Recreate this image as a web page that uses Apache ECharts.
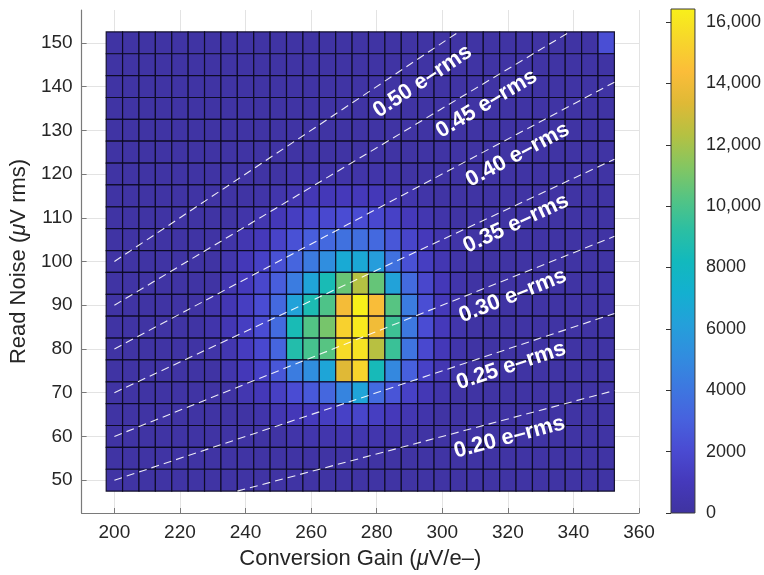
<!DOCTYPE html>
<html>
<head>
<meta charset="utf-8">
<script src="https://cdn.jsdelivr.net/npm/echarts@6/dist/echarts.min.js"></script>
<style>
  html, body { margin: 0; padding: 0; background: #ffffff; }
  #chart { width: 764px; height: 575px; }
</style>
</head>
<body>
<div id="chart"></div>
<script>
// Bin centres of the 2-D histogram
const gainBins = [200,205,210,215,220,225,230,235,240,245,250,255,260,265,270,275,280,285,290,295,300,305,310,315,320,325,330,335,340,345,350];
const noiseBins = [150,145,140,135,130,125,120,115,110,105,100,95,90,85,80,75,70,65,60,55,50];
const binWidth = 5;

// Pixel counts per bin, one row per read-noise bin (top row = 150 µV)
const countRows = [
  [150,150,150,150,150,150,150,150,150,150, 150,150,150,150,150,150,150,150,150,150, 150,150,150,150,150,150,150,150,150,150, 2200],
  [150,150,150,150,150,150,150,150,150,150, 150,150,150,150,150,150,150,150,150,150, 150,150,150,150,150,150,150,150,150,150, 150],
  [150,150,150,150,150,150,150,150,150,150, 150,150,150,150,150,150,150,150,150,150, 150,150,150,150,150,150,150,150,150,150, 150],
  [150,150,150,150,150,150,150,150,150,150, 150,150,150,150,150,150,150,150,150,150, 150,150,150,150,150,150,150,150,150,150, 150],
  [150,150,150,150,150,150,150,150,150,150, 150,150,150,150,150,150,150,150,150,150, 150,150,150,150,150,150,150,150,150,150, 150],
  [150,150,150,150,150,150,150,150,150,150, 150,150,150,150,150,150,150,150,150,150, 150,150,150,150,150,150,150,150,150,150, 150],
  [150,150,150,150,150,150,150,150,150,150, 150,350,350,350,350,350,350,350,150,150, 150,150,150,150,150,150,150,150,150,150, 150],
  [150,150,150,150,150,150,150,150,150,300, 450,600,800,900,1000,1000,900,700,450,300, 150,150,150,150,150,150,150,150,150,150, 150],
  [150,150,150,150,150,150,150,150,350,600, 900,1300,1700,1900,2100,2100,1900,1500,1000,600, 350,150,150,150,150,150,150,150,150,150, 150],
  [150,150,150,150,150,150,150,350,650,1000, 1600,2300,2900,3400,3800,3700,3400,2600,1700,1000, 550,300,150,150,150,150,150,150,150,150, 150],
  [150,150,150,150,150,150,150,500,900,1500, 2300,3200,4200,5200,6800,6700,6000,3800,2300,1300, 700,350,150,150,150,150,150,150,150,150, 150],
  [150,150,150,150,150,150,150,650,1100,1800, 2900,4300,6400,8500,10700,12300,10600,6300,3500,1800, 900,400,150,150,150,150,150,150,150,150, 150],
  [150,150,150,150,150,150,400,750,1300,2100, 3400,6300,8600,10100,14100,16400,14300,10300,4300,2200, 1000,450,150,150,150,150,150,150,150,150, 150],
  [150,150,150,150,150,150,400,750,1300,2100, 3500,8500,10200,11000,15200,16200,14000,9700,4100,2100, 1000,450,150,150,150,150,150,150,150,150, 150],
  [150,150,150,150,150,150,350,650,1200,1900, 3200,8900,9900,10300,15600,15900,12400,9600,3900,1900, 900,400,150,150,150,150,150,150,150,150, 150],
  [150,150,150,150,150,150,150,500,900,1500, 2600,4300,5200,6500,13400,15300,8400,4900,3000,1500, 700,300,150,150,150,150,150,150,150,150, 150],
  [150,150,150,150,150,150,150,150,600,900, 1400,2100,2700,3300,4700,6400,3500,2500,1500,800, 400,150,150,150,150,150,150,150,150,150, 150],
  [150,150,150,150,150,150,150,150,150,400, 700,900,1100,1300,1500,1700,1300,1000,700,400, 150,150,150,150,150,150,150,150,150,150, 150],
  [150,150,150,150,150,150,150,150,150,150, 150,350,450,500,550,550,500,400,300,150, 150,150,150,150,150,150,150,150,150,150, 150],
  [150,150,150,150,150,150,150,150,150,150, 150,150,150,150,150,150,150,150,150,150, 150,150,150,150,150,150,150,150,150,150, 150],
  [150,150,150,150,150,150,150,150,150,150, 150,150,150,150,150,150,150,150,150,150, 150,150,150,150,150,150,150,150,150,150, 150]
];
const countMax = 16425;

// Constant input-referred noise lines: read noise = level * conversion gain
const noiseLevels = [0.50, 0.45, 0.40, 0.35, 0.30, 0.25, 0.20];
const noiseLevelText = ['0.50 e\u2013rms', '0.45 e\u2013rms', '0.40 e\u2013rms', '0.35 e\u2013rms', '0.30 e\u2013rms', '0.25 e\u2013rms', '0.20 e\u2013rms'];
const lineStartGain = 200;

// Axis ticks
const gainTicks = [200,220,240,260,280,300,320,340,360];
const noiseTicks = [50,60,70,80,90,100,110,120,130,140,150];
const countTicks = [0,2000,4000,6000,8000,10000,12000,14000,16000];

// Where each line's text sits (gain of text centre, drop below the line in µV)
const labelGain = [294, 313.5, 323, 322.5, 321.5, 321, 320.5];
const labelDrop = [5.8, 5.0, 4.8, 4.2, 4.3, 4.1, 4.3];

const parula = ['#3f33a0','#4539bb','#4a4bd2','#4762de','#3d78e0','#318ddf','#24a0da','#13b0d0',
  '#12b9bd','#2cbfa2','#55c483','#85c661','#b5c142','#dfb936','#fbbd39','#f7d62b','#f8f01a'];

const font = 'Liberation Sans, Arial, Helvetica, sans-serif';
const ink = '#262626';

const cells = [];
noiseBins.forEach((y, r) => {
  gainBins.forEach((x, c) => cells.push([x, y, countRows[r][c]]));
});

const half = binWidth / 2;
const yLow = noiseBins[noiseBins.length - 1] - half;
const yHigh = noiseBins[0] + half;
const xHigh = gainBins[gainBins.length - 1] + half;

const lineSeries = noiseLevels.map(k => {
  const xa = Math.max(lineStartGain, yLow / k);
  const xb = Math.min(xHigh, yHigh / k);
  return {
    type: 'line', xAxisIndex: 0, yAxisIndex: 0, silent: true, symbol: 'none', z: 5,
    data: [[xa, k * xa], [xb, k * xb]],
    lineStyle: { color: 'rgba(255,255,255,0.9)', width: 1.1, type: [8, 5] }
  };
});

const stops = parula.map((c, i) => ({ offset: i / (parula.length - 1), color: c }));

const chart = echarts.init(document.getElementById('chart'), null, { renderer: 'canvas' });

const titleStyle = {
  color: ink, fontSize: 22, fontFamily: font,
  rich: { it: { fontStyle: 'italic', fontSize: 22, color: ink, fontFamily: font } }
};

function buildOption(angles) {
  return {
    animation: false,
    backgroundColor: '#ffffff',
    textStyle: { fontFamily: font },
    grid: [
      { left: 80, right: 125, top: 10, bottom: 62, containLabel: false },
      { left: 671, width: 31, top: 9, height: 504, show: true,
        backgroundColor: { type: 'linear', x: 0, y: 1, x2: 0, y2: 0, colorStops: stops },
        borderColor: '#3a3a3a', borderWidth: 1 }
    ],
    xAxis: [
      {
        type: 'value', gridIndex: 0, min: 190, max: 360,
        name: 'Conversion Gain ({it|\u03bc}V/e\u2013)', nameLocation: 'middle', nameGap: 35,
        nameTextStyle: titleStyle,
        axisLine: { lineStyle: { color: '#7a7a7a', width: 1.2 } },
        axisTick: { inside: true, length: 5, customValues: gainTicks, lineStyle: { color: '#7a7a7a' } },
        axisLabel: { customValues: gainTicks, color: ink, fontSize: 19, margin: 10, fontFamily: font },
        splitLine: { show: true, lineStyle: { color: '#e3e3e3', width: 1 } }
      },
      { type: 'value', gridIndex: 1, min: 0, max: 1, show: false }
    ],
    yAxis: [
      {
        type: 'value', gridIndex: 0, min: 42.5, max: 157.5,
        name: 'Read Noise ({it|\u03bc}V rms)', nameLocation: 'middle', nameGap: 47, nameRotate: 90,
        nameTextStyle: titleStyle,
        axisLine: { show: true, lineStyle: { color: '#7a7a7a', width: 1.2 } },
        axisTick: { show: true, inside: true, length: 5, customValues: noiseTicks, lineStyle: { color: '#7a7a7a' } },
        axisLabel: { customValues: noiseTicks, color: ink, fontSize: 19, margin: 9, fontFamily: font },
        splitLine: { show: true, lineStyle: { color: '#e3e3e3', width: 1 } }
      },
      {
        type: 'value', gridIndex: 1, min: 0, max: countMax, position: 'right',
        axisLine: { show: false },
        axisTick: { show: true, inside: true, length: 5, customValues: countTicks, lineStyle: { color: '#333' } },
        axisLabel: {
          customValues: countTicks, color: ink, fontSize: 18, margin: 11, fontFamily: font,
          formatter: v => (v >= 10000 ? v.toLocaleString('en-US') : String(v))
        },
        splitLine: { show: false }
      }
    ],
    visualMap: {
      show: false, type: 'continuous', min: 0, max: countMax, dimension: 2, seriesIndex: 0,
      inRange: { color: parula }
    },
    series: [
      {
        type: 'custom', xAxisIndex: 0, yAxisIndex: 0, z: 3,
        encode: { x: 0, y: 1 },
        data: cells,
        renderItem: (params, api) => {
          const x = api.value(0), y = api.value(1);
          const p0 = api.coord([x - half, y + half]);
          const p1 = api.coord([x + half, y - half]);
          return {
            type: 'rect',
            shape: { x: p0[0], y: p0[1], width: p1[0] - p0[0], height: p1[1] - p0[1] },
            style: { fill: api.visual('color'), stroke: 'rgba(12,10,35,0.92)', lineWidth: 1.2 }
          };
        }
      },
      ...lineSeries,
      {
        type: 'scatter', xAxisIndex: 0, yAxisIndex: 0, symbolSize: 0, silent: true, z: 8,
        itemStyle: { opacity: 1 },
        data: noiseLevels.map((k, i) => ({
          value: [labelGain[i], k * labelGain[i] - labelDrop[i]],
          label: {
            show: true, position: 'inside', formatter: noiseLevelText[i],
            rotate: angles ? angles[i] : 0,
            color: '#ffffff', fontSize: 22, fontWeight: 'bold', fontFamily: font
          }
        }))
      }
    ]
  };
}

chart.setOption(buildOption(null));
// Text follows each line's on-screen slope
const a = chart.convertToPixel({ gridIndex: 0 }, [200, 50]);
const b = chart.convertToPixel({ gridIndex: 0 }, [300, 150]);
const sx = (b[0] - a[0]) / 100;
const sy = (a[1] - b[1]) / 100;
const angles = noiseLevels.map(k => Math.atan(k * sy / sx) * 180 / Math.PI);
chart.setOption(buildOption(angles));
</script>
</body>
</html>
